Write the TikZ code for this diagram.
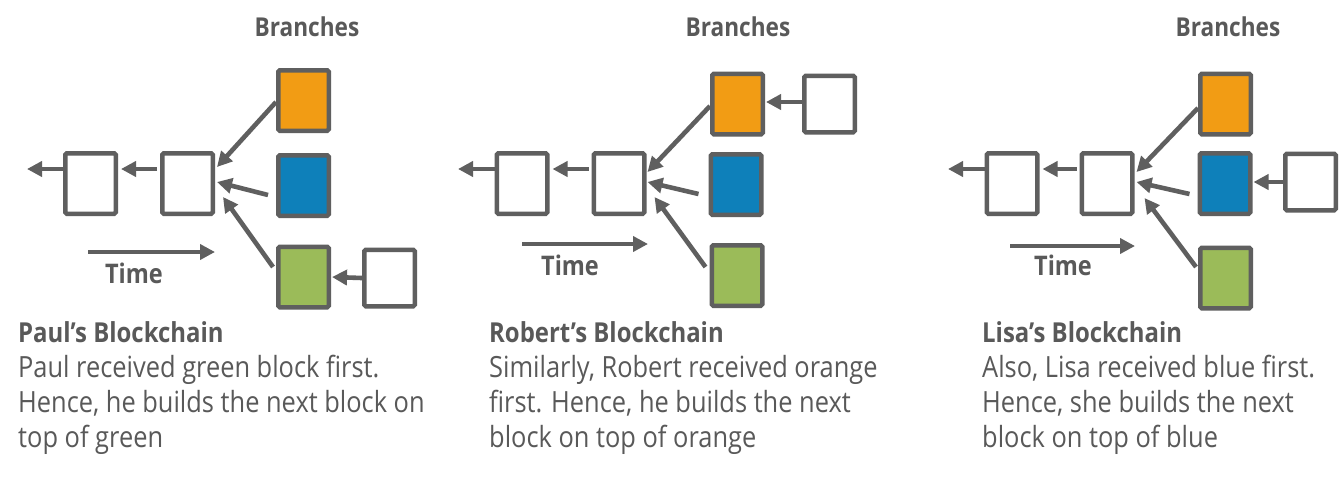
\documentclass[tikz,border=0pt]{standalone}
\usepackage{fontspec}
\setmainfont[FakeStretch=0.87]{Open Sans}
\usetikzlibrary{arrows.meta,calc}
\definecolor{txt}{HTML}{595959}
\definecolor{edge}{HTML}{5F5F5F}
\definecolor{cor}{HTML}{F29C14}
\definecolor{cbl}{HTML}{0E80BA}
\definecolor{cgr}{HTML}{9BBB59}
\begin{document}
\begin{tikzpicture}[x=1pt,y=-1pt,
  blk/.style={draw=edge, line width=4.5pt, rounded corners=1.5pt, minimum width=50.5pt, minimum height=60.5pt, inner sep=0pt, fill=white},
  tailblk/.style={blk, minimum height=56.5pt},
  arr/.style={draw=edge, line width=4.6pt, -{Triangle[length=15pt,width=15pt]}},
  chain/.style={arr, shorten <=3pt, shorten >=3pt},
  head/.style={font=\fontsize{26}{30}\selectfont\bfseries, text=txt, anchor=base, inner sep=0pt},
  timelbl/.style={font=\fontsize{27}{30}\selectfont\bfseries, text=txt, anchor=base, inner sep=0pt},
  body/.style={font=\fontsize{29.2}{35}\selectfont, text=txt, anchor=base west, inner sep=0pt},
  title/.style={font=\fontsize{27.5}{30}\selectfont\bfseries, text=txt, anchor=base west, inner sep=0pt}]
\useasboundingbox[fill=white] (0,0) rectangle (1340,499);

% ---------- Panel 1 ----------
\node[head] (br1) at (307,36) {Branches};
\node[blk] (A1) at (90.5,183.5) {};
\node[blk] (B1) at (187.5,183.5) {};
\node[blk, fill=cor] (O1) at (303.5,100.5) {};
\node[blk, fill=cbl] (L1) at (303.5,185.5) {};
\node[blk, fill=cgr] (G1) at (303.5,277) {};
\node[tailblk] (W1) at (389.5,278) {};
\coordinate (e1) at (27,169);
\draw[arr] ($(A1.west)+(0,-14.5)$) -- (e1);
\draw[chain] ($(B1.west)+(0,-14.5)$) -- ($(A1.east)+(0,-14.5)$);
\draw[arr] ($(O1.west)+(0,1.5)$) -- ($(B1.east)+(2,-16.5)$);
\draw[arr] ($(L1.west)+(-8,9.5)$) -- ($(B1.east)+(2,-1.5)$);
\draw[arr] ($(G1.west)+(-3,-10)$) -- ($(B1.east)+(8,13.5)$);
\draw[arr] (W1.west) -- ($(G1.east)+(1,0)$);
\coordinate (t1a) at (88,252);
\coordinate (t1b) at (215,252);
\draw[arr] (t1a) -- (t1b);
\node[timelbl] (tm1) at (134,283) {Time};
\node[title] (h1) at (18,342) {Paul’s Blockchain};
\node[body] (p1a) at (18,377) {Paul received green block first.};
\node[body] (p1b) at (18,412) {Hence, he builds the next block on};
\node[body] (p1c) at (18,447) {top of green};

% ---------- Panel 2 ----------
\node[head] (br2) at (738,36) {Branches};
\node[blk] (A2) at (522,183.5) {};
\node[blk] (B2) at (619,183.5) {};
\node[blk, fill=cor] (O2) at (737.5,104) {};
\node[blk, fill=cbl] (L2) at (736,184.5) {};
\node[blk, fill=cgr] (G2) at (737,275.5) {};
\node[tailblk] (W2) at (829.5,104) {};
\coordinate (e2) at (458,169);
\draw[arr] ($(A2.west)+(0,-14.5)$) -- (e2);
\draw[chain] ($(B2.west)+(0,-14.5)$) -- ($(A2.east)+(0,-14.5)$);
\draw[arr] ($(O2.west)+(0,2)$) -- ($(B2.east)+(1,-11.5)$);
\draw[arr] ($(L2.west)+(-10,9.5)$) -- ($(B2.east)+(1,-1.5)$);
\draw[arr] ($(G2.west)+(-4,-8.5)$) -- ($(B2.east)+(8,13.5)$);
\draw[arr] ($(W2.west)+(0,-2)$) -- ($(O2.east)+(1,-2)$);
\coordinate (t2a) at (522,244);
\coordinate (t2b) at (648,244);
\draw[arr] (t2a) -- (t2b);
\node[timelbl] (tm2) at (570,275) {Time};
\node[title] (h2) at (489,342) {Robert’s Blockchain};
\node[body] (p2a) at (489,377) {Similarly, Robert received orange};
\node[body] (p2b) at (489,412) {first. Hence, he builds the next};
\node[body] (p2c) at (489,447) {block on top of orange};

% ---------- Panel 3 ----------
\node[head] (br3) at (1228,36) {Branches};
\node[blk] (A3) at (1012,183.5) {};
\node[blk] (B3) at (1107,183.5) {};
\node[blk, fill=cor] (O3) at (1225.5,104) {};
\node[blk, fill=cbl] (L3) at (1225,183.5) {};
\node[blk, fill=cgr] (G3) at (1225.5,278) {};
\node[tailblk] (W3) at (1310.5,182) {};
\coordinate (e3) at (948,169);
\draw[arr] ($(A3.west)+(0,-14.5)$) -- (e3);
\draw[chain] ($(B3.west)+(0,-14.5)$) -- ($(A3.east)+(0,-14.5)$);
\draw[arr] ($(O3.west)+(0,4)$) -- ($(B3.east)+(2,-11.5)$);
\draw[arr] ($(L3.west)+(-8,10.5)$) -- ($(B3.east)+(2,-1.5)$);
\draw[arr] ($(G3.west)+(-2,-11)$) -- ($(B3.east)+(10,14.5)$);
\draw[arr] (W3.west) -- ($(L3.east)+(1,-1.5)$);
\coordinate (t3a) at (1010,246);
\coordinate (t3b) at (1135,246);
\draw[arr] (t3a) -- (t3b);
\node[timelbl] (tm3) at (1063,275) {Time};
\node[title] (h3) at (982,342) {Lisa’s Blockchain};
\node[body] (p3a) at (982,377) {Also, Lisa received blue first.};
\node[body] (p3b) at (982,412) {Hence, she builds the next};
\node[body] (p3c) at (982,447) {block on top of blue};
\end{tikzpicture}
\end{document}
